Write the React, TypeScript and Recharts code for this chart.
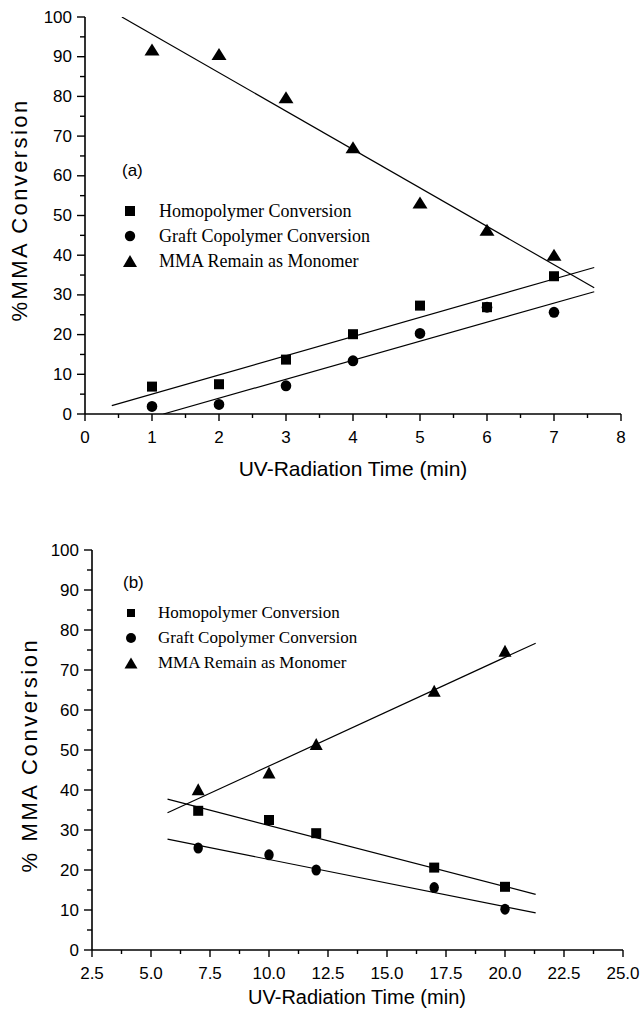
import React from 'react';
import { ComposedChart, Scatter, XAxis, YAxis } from 'recharts';

// ---------- Panel (a) data ----------
const timeA = [1, 2, 3, 4, 5, 6, 7];
const homoA = [6.9, 7.5, 13.7, 20.1, 27.3, 26.9, 34.7];
const graftA = [1.9, 2.4, 7.1, 13.4, 20.3, 26.9, 25.6];
const monoA = [91.8, 90.7, 79.8, 67.2, 53.3, 46.4, 40.1];
const fitHomoAX = [0.4, 7.6];
const fitHomoAY = [2.1, 36.9];
const fitGraftAX = [1.17, 7.6];
const fitGraftAY = [0, 30.8];
const fitMonoAX = [0.55, 7.6];
const fitMonoAY = [100, 31.8];
const xTicksA = [0, 0.5, 1, 1.5, 2, 2.5, 3, 3.5, 4, 4.5, 5, 5.5, 6, 6.5, 7, 7.5, 8];

// ---------- Panel (b) data ----------
const timeB = [7, 10, 12, 17, 20];
const homoB = [34.8, 32.5, 29.2, 20.6, 15.8];
const graftB = [25.5, 23.8, 20.0, 15.6, 10.2];
const monoB = [40.2, 44.4, 51.5, 64.8, 74.8];
const fitHomoBX = [5.7, 21.3];
const fitHomoBY = [37.7, 13.9];
const fitGraftBX = [5.7, 21.3];
const fitGraftBY = [27.7, 9.3];
const fitMonoBX = [5.7, 21.3];
const fitMonoBY = [34.3, 76.7];
const xTicksB = [2.5, 3.75, 5, 6.25, 7.5, 8.75, 10, 11.25, 12.5, 13.75, 15, 16.25, 17.5, 18.75, 20, 21.25, 22.5, 23.75, 25];

const yTicks = [0, 5, 10, 15, 20, 25, 30, 35, 40, 45, 50, 55, 60, 65, 70, 75, 80, 85, 90, 95, 100];

const seriesNames = ['Homopolymer Conversion', 'Graft Copolymer Conversion', 'MMA Remain as Monomer'];

const pts = (xs: number[], ys: number[]) => xs.map((x, i) => ({ x, y: ys[i] }));

const SANS = '"Liberation Sans", Arial, sans-serif';
const SERIF = '"Liberation Serif", "Times New Roman", serif';

const isMultiple = (v: number, step: number) => Math.abs(v / step - Math.round(v / step)) < 1e-6;

type TickOpts = {
  side: 'bottom' | 'top' | 'left' | 'right';
  step: number;
  fmt?: (v: number) => string;
  majorLen: number;
  minorLen: number;
  fontSize?: number;
  labelOffset?: number;
};

const makeTick = (o: TickOpts) => (props: any) => {
  const { x, y, payload } = props;
  const v = payload.value as number;
  const major = isMultiple(v, o.step);
  const len = major ? o.majorLen : o.minorLen;
  let line: React.ReactNode = null;
  let label: React.ReactNode = null;
  const lineProps = { stroke: '#000', strokeWidth: 1.4 };
  if (o.side === 'bottom') {
    line = <line x1={x} x2={x} y1={y} y2={y + len} {...lineProps} />;
    if (major && o.fmt)
      label = (
        <text x={x} y={y + (o.labelOffset || 0)} textAnchor="middle" dominantBaseline="central" fontFamily={SANS} fontSize={o.fontSize} fill="#000">
          {o.fmt(v)}
        </text>
      );
  } else if (o.side === 'top') {
    line = <line x1={x} x2={x} y1={y} y2={y + len} {...lineProps} />;
  } else if (o.side === 'left') {
    line = <line x1={x - len} x2={x} y1={y} y2={y} {...lineProps} />;
    if (major && o.fmt)
      label = (
        <text x={x - (o.labelOffset || 0)} y={y} textAnchor="end" dominantBaseline="central" fontFamily={SANS} fontSize={o.fontSize} fill="#000">
          {o.fmt(v)}
        </text>
      );
  } else {
    line = <line x1={x - len} x2={x} y1={y} y2={y} {...lineProps} />;
  }
  return (
    <g>
      {line}
      {label}
    </g>
  );
};

const Square = (s: number) => (p: any) => <rect x={p.cx - s / 2} y={p.cy - s / 2} width={s} height={s} fill="#000" />;
const Dot = (rx: number, ry: number) => (p: any) => <ellipse cx={p.cx} cy={p.cy} rx={rx} ry={ry} fill="#000" />;
const Tri = (w: number, h: number) => (p: any) => (
  <polygon points={`${p.cx},${p.cy - h / 2} ${p.cx - w / 2},${p.cy + h / 2} ${p.cx + w / 2},${p.cy + h / 2}`} fill="#000" />
);
const Nothing = () => <g />;

const axisLine = { stroke: '#000', strokeWidth: 1.6 };

type PanelProps = {
  height: number;
  margin: { top: number; right: number; bottom: number; left: number };
  yAxisWidth: number;
  xAxisHeight: number;
  xDomain: [number, number];
  xTicks: number[];
  xStep: number;
  xFmt: (v: number) => string;
  tickFont: number;
  yLabelOffset: number;
  xLabelOffset: number;
  homo: { x: number; y: number }[];
  graft: { x: number; y: number }[];
  mono: { x: number; y: number }[];
  fits: { x: number; y: number }[][];
  shapes: { sq: number; cr: [number, number]; tri: [number, number] };
  xTitle: string;
  xTitlePos: [number, number];
  xTitleSize: number;
  yTitle: string;
  yTitlePos: [number, number];
  yTitleSize: number;
  yTitleSpacing: number;
};

function Panel(p: PanelProps) {
  const xTitle = () => (
    <text x={p.xTitlePos[0]} y={p.xTitlePos[1]} textAnchor="middle" dominantBaseline="central" fontFamily={SANS} fontSize={p.xTitleSize} fill="#000">
      {p.xTitle}
    </text>
  );
  const yTitle = () => (
    <text
      x={p.yTitlePos[0]}
      y={p.yTitlePos[1]}
      textAnchor="middle"
      dominantBaseline="central"
      fontFamily={SANS}
      fontSize={p.yTitleSize}
      letterSpacing={p.yTitleSpacing}
      fill="#000"
      transform={`rotate(-90 ${p.yTitlePos[0]} ${p.yTitlePos[1]})`}
    >
      {p.yTitle}
    </text>
  );
  return (
    <ComposedChart width={641} height={p.height} margin={p.margin}>
      <XAxis
        xAxisId="b"
        dataKey="x"
        type="number"
        orientation="bottom"
        domain={p.xDomain}
        ticks={p.xTicks}
        interval={0}
        allowDataOverflow
        height={p.xAxisHeight}
        tickSize={0}
        tickMargin={0}
        tickLine={false}
        axisLine={axisLine}
        tick={makeTick({ side: 'bottom', step: p.xStep, fmt: p.xFmt, majorLen: 7, minorLen: 4, fontSize: p.tickFont, labelOffset: p.xLabelOffset })}
        label={xTitle}
      />
      <XAxis
        xAxisId="t"
        dataKey="x"
        type="number"
        orientation="top"
        mirror
        domain={p.xDomain}
        ticks={p.xTicks}
        interval={0}
        allowDataOverflow
        height={0}
        tickSize={0}
        tickMargin={0}
        tickLine={false}
        axisLine={axisLine}
        tick={makeTick({ side: 'top', step: p.xStep, majorLen: 7, minorLen: 5 })}
      />
      <YAxis
        yAxisId="l"
        dataKey="y"
        type="number"
        orientation="left"
        domain={[0, 100]}
        ticks={yTicks}
        interval={0}
        allowDataOverflow
        width={p.yAxisWidth}
        tickSize={0}
        tickMargin={0}
        tickLine={false}
        axisLine={axisLine}
        tick={makeTick({ side: 'left', step: 10, fmt: (v) => String(v), majorLen: 8, minorLen: 5, fontSize: p.tickFont, labelOffset: p.yLabelOffset })}
        label={yTitle}
      />
      <YAxis
        yAxisId="r"
        dataKey="y"
        type="number"
        orientation="right"
        mirror
        domain={[0, 100]}
        ticks={yTicks}
        interval={0}
        allowDataOverflow
        width={0}
        tickSize={0}
        tickMargin={0}
        tickLine={false}
        axisLine={axisLine}
        tick={makeTick({ side: 'right', step: 10, majorLen: 7, minorLen: 5 })}
      />
      <Scatter xAxisId="t" yAxisId="r" data={p.fits[0]} shape={Nothing} isAnimationActive={false} />
      {p.fits.map((f, i) => (
        <Scatter
          key={'fit' + i}
          xAxisId="b"
          yAxisId="l"
          data={f}
          shape={Nothing}
          line={{ stroke: '#000', strokeWidth: 1.2 }}
          isAnimationActive={false}
        />
      ))}
      <Scatter name={seriesNames[0]} xAxisId="b" yAxisId="l" data={p.homo} shape={Square(p.shapes.sq)} isAnimationActive={false} />
      <Scatter name={seriesNames[1]} xAxisId="b" yAxisId="l" data={p.graft} shape={Dot(p.shapes.cr[0], p.shapes.cr[1])} isAnimationActive={false} />
      <Scatter name={seriesNames[2]} xAxisId="b" yAxisId="l" data={p.mono} shape={Tri(p.shapes.tri[0], p.shapes.tri[1])} isAnimationActive={false} />
    </ComposedChart>
  );
}

function LegendBlock(props: {
  left: number;
  top: number;
  tag: string;
  tagTop: number;
  rows: number[];
  textLeft: number;
  fontSize: number;
  sq: number;
  cr: number;
  tri: [number, number];
}) {
  const { left, rows, textLeft, fontSize, sq, cr, tri } = props;
  const markers = [
    <rect x={10 - sq / 2} y={10 - sq / 2} width={sq} height={sq} fill="#000" />,
    <circle cx={10} cy={10} r={cr} fill="#000" />,
    <polygon points={`10,${10 - tri[1] / 2} ${10 - tri[0] / 2},${10 + tri[1] / 2} ${10 + tri[0] / 2},${10 + tri[1] / 2}`} fill="#000" />,
  ];
  return (
    <>
      <div
        style={{
          position: 'absolute',
          left: left - 8,
          top: props.tagTop,
          transform: 'translateY(-50%)',
          fontFamily: SANS,
          fontSize: 17,
          lineHeight: '20px',
          color: '#000',
        }}
      >
        {props.tag}
      </div>
      {rows.map((y, i) => (
        <React.Fragment key={i}>
          <svg width={20} height={20} style={{ position: 'absolute', left: left - 10, top: y - 10 }}>
            {markers[i]}
          </svg>
          <div
            style={{
              position: 'absolute',
              left: textLeft,
              top: y,
              transform: 'translateY(-50%)',
              fontFamily: SERIF,
              fontSize,
              lineHeight: '20px',
              whiteSpace: 'nowrap',
              color: '#000',
            }}
          >
            {seriesNames[i]}
          </div>
        </React.Fragment>
      ))}
    </>
  );
}

export default function App() {
  return (
    <div style={{ position: 'absolute', left: 0, top: 0, width: 641, height: 1016, background: '#fff', overflow: 'hidden' }}>
      <div style={{ position: 'absolute', left: 0, top: 0 }}>
        <Panel
          height={500}
          margin={{ top: 17, right: 20, bottom: 0, left: 0 }}
          yAxisWidth={85}
          xAxisHeight={86}
          xDomain={[0, 8]}
          xTicks={xTicksA}
          xStep={1}
          xFmt={(v) => String(v)}
          tickFont={17}
          yLabelOffset={13}
          xLabelOffset={23}
          homo={pts(timeA, homoA)}
          graft={pts(timeA, graftA)}
          mono={pts(timeA, monoA)}
          fits={[pts(fitHomoAX, fitHomoAY), pts(fitGraftAX, fitGraftAY), pts(fitMonoAX, fitMonoAY)]}
          shapes={{ sq: 10, cr: [5.3, 5.5], tri: [15, 12] }}
          xTitle="UV-Radiation Time (min)"
          xTitlePos={[353, 468]}
          xTitleSize={21}
          yTitle="%MMA Conversion"
          yTitlePos={[19, 210]}
          yTitleSize={22}
          yTitleSpacing={2.4}
        />
      </div>
      <div style={{ position: 'absolute', left: 0, top: 500 }}>
        <Panel
          height={516}
          margin={{ top: 50, right: 18, bottom: 0, left: 0 }}
          yAxisWidth={92}
          xAxisHeight={66}
          xDomain={[2.5, 25]}
          xTicks={xTicksB}
          xStep={2.5}
          xFmt={(v) => v.toFixed(1)}
          tickFont={17}
          yLabelOffset={13}
          xLabelOffset={23}
          homo={pts(timeB, homoB)}
          graft={pts(timeB, graftB)}
          mono={pts(timeB, monoB)}
          fits={[pts(fitHomoBX, fitHomoBY), pts(fitGraftBX, fitGraftBY), pts(fitMonoBX, fitMonoBY)]}
          shapes={{ sq: 10, cr: [4.7, 5.5], tri: [13, 12] }}
          xTitle="UV-Radiation Time (min)"
          xTitlePos={[357, 497]}
          xTitleSize={20}
          yTitle="% MMA Conversion"
          yTitlePos={[29, 255]}
          yTitleSize={22}
          yTitleSpacing={2.6}
        />
      </div>
      <LegendBlock left={130} top={0} tag="(a)" tagTop={171} rows={[211, 236, 261]} textLeft={159} fontSize={18} sq={10} cr={5.2} tri={[14, 12]} />
      <LegendBlock left={131} top={0} tag="(b)" tagTop={583} rows={[613, 638, 663]} textLeft={158} fontSize={17} sq={8} cr={5} tri={[13, 11]} />
    </div>
  );
}
